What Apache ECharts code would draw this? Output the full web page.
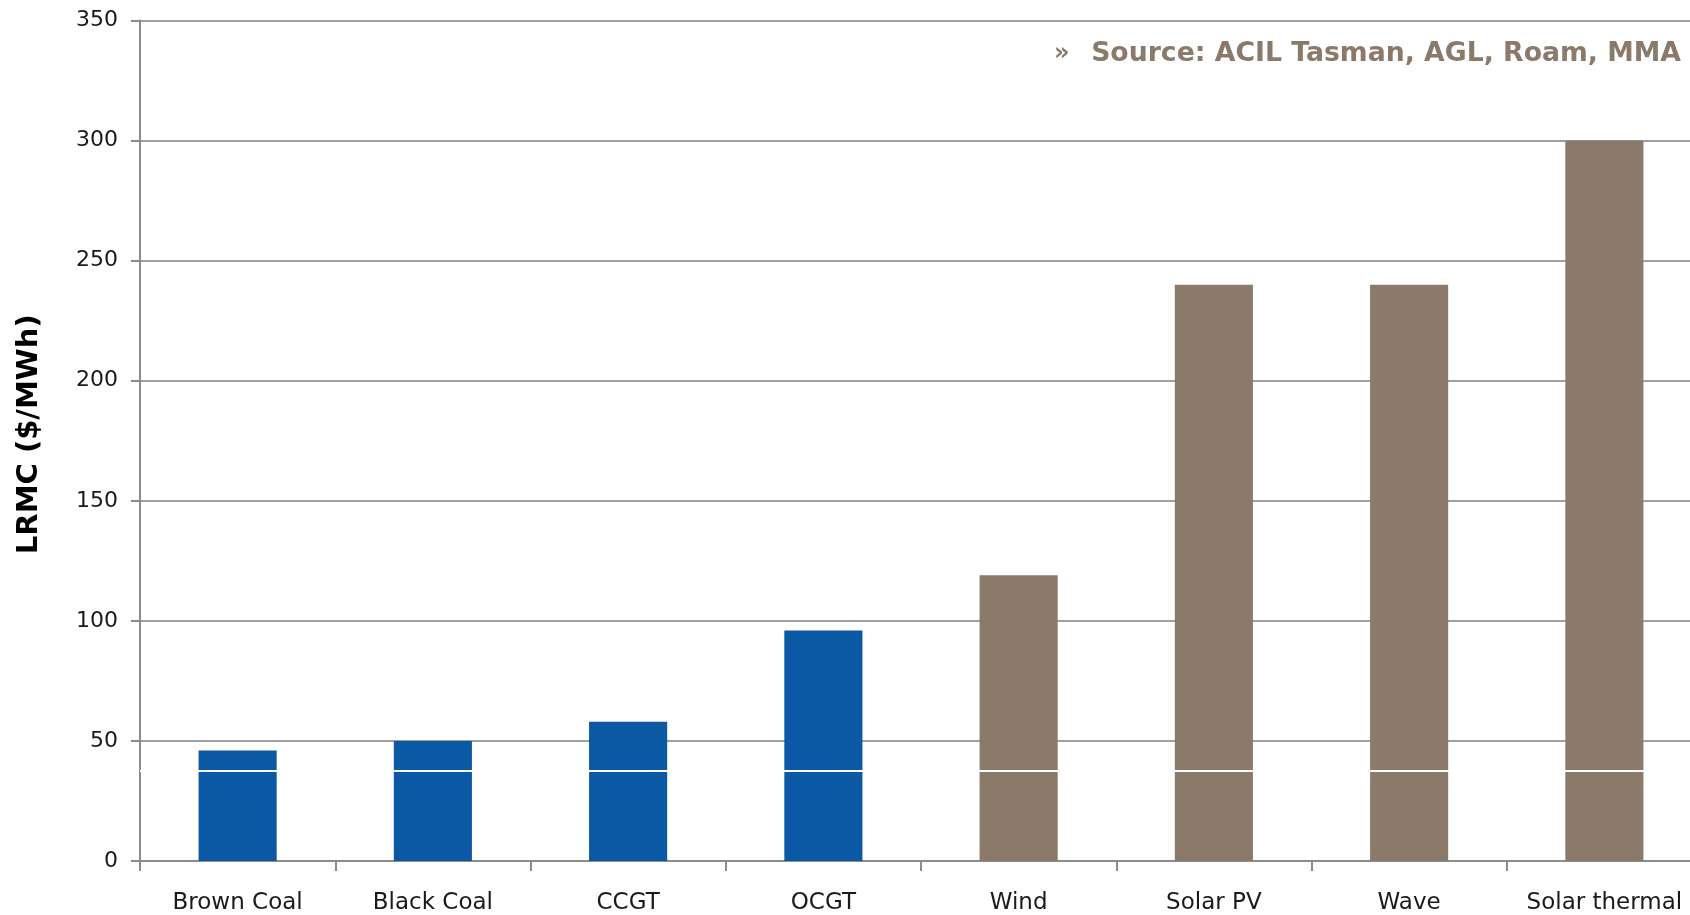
<!DOCTYPE html>
<html>
<head>
<meta charset="utf-8">
<script src="https://cdn.jsdelivr.net/npm/echarts@6/dist/echarts.min.js"></script>
<style>
html,body{margin:0;padding:0;background:#fff;overflow:hidden;}
#wrap{position:relative;width:1690px;height:915px;overflow:hidden;}
#chart{position:absolute;left:0;top:0;width:1702px;height:915px;}
</style>
</head>
<body>
<div id="wrap"><div id="chart"></div></div>
<script>
const categories = ['Brown Coal', 'Black Coal', 'CCGT', 'OCGT', 'Wind', 'Solar PV', 'Wave', 'Solar thermal'];
const fossilValues = [46, 50, 58, 96, '-', '-', '-', '-'];
const renewableValues = ['-', '-', '-', '-', 119, 240, 240, 300];
const referenceLevel = 37.6;
const yTicks = { min: 0, max: 350, interval: 50 };
const yAxisTitle = 'LRMC ($/MWh)';
const sourceText = 'Source: ACIL Tasman, AGL, Roam, MMA';

const chart = echarts.init(document.getElementById('chart'));
const fontFamily = '"DejaVu Sans", Verdana, sans-serif';
chart.setOption({
  animation: false,
  backgroundColor: '#ffffff',
  grid: { left: 140, top: 20.5, width: 1562, height: 845, containLabel: false },
  xAxis: {
    type: 'category',
    data: categories,
    axisLine: { lineStyle: { color: '#8c8c8c', width: 2 } },
    axisTick: { show: true, interval: 0, length: 10, lineStyle: { color: '#8c8c8c', width: 2 } },
    axisLabel: { interval: 0, color: '#1a1a1a', fontSize: 23, fontFamily: fontFamily, margin: 31 },
    splitLine: { show: false }
  },
  yAxis: {
    type: 'value',
    min: yTicks.min, max: yTicks.max, interval: yTicks.interval,
    name: yAxisTitle,
    nameLocation: 'middle',
    nameGap: 96,
    nameTextStyle: { color: '#000', fontSize: 29, fontWeight: 'bold', fontFamily: fontFamily, padding: [0, 0, 0, 13] },
    axisLine: { show: true, lineStyle: { color: '#8c8c8c', width: 2 } },
    axisTick: { show: true, length: 9, lineStyle: { color: '#8c8c8c', width: 2 } },
    axisLabel: { color: '#1a1a1a', fontSize: 22, fontFamily: fontFamily, margin: 22 },
    splitLine: { show: true, lineStyle: { color: '#a0a0a0', width: 2 } }
  },
  series: [
    {
      name: 'Fossil',
      type: 'bar',
      stack: 'total',
      data: fossilValues,
      barWidth: '40%',
      itemStyle: { color: '#0b58a4' },
      markLine: {
        silent: true,
        symbol: 'none',
        label: { show: false },
        lineStyle: { color: '#ffffff', width: 2, type: 'solid' },
        data: [{ yAxis: referenceLevel }],
        z: 10
      },
      z: 3
    },
    {
      name: 'Renewable',
      type: 'bar',
      stack: 'total',
      data: renewableValues,
      barWidth: '40%',
      itemStyle: { color: '#8b796a' },
      z: 3
    }
  ],
  graphic: [
    {
      type: 'text',
      x: 1054,
      y: 54,
      style: { text: '»', fill: '#8b796a', font: 'bold 24px ' + fontFamily, align: 'left', verticalAlign: 'middle' }
    },
    {
      type: 'text',
      x: 1681,
      y: 54,
      style: { text: sourceText, fill: '#8b796a', font: 'bold 26.7px ' + fontFamily, align: 'right', verticalAlign: 'middle' }
    }
  ]
});
</script>
</body>
</html>
